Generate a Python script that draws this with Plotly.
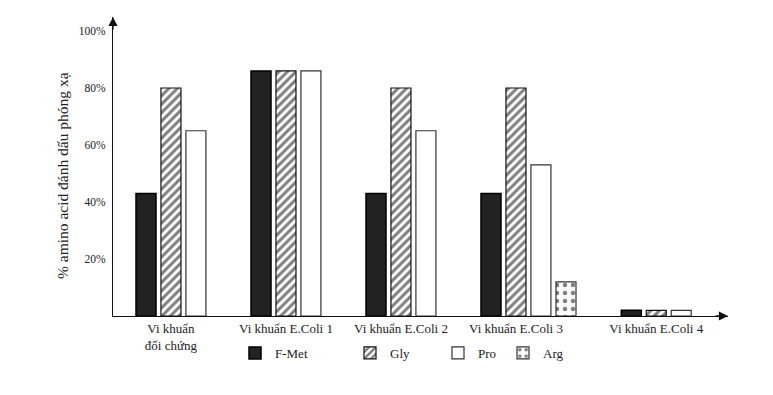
import plotly.graph_objects as go

# ---- data ----
categories = ["Vi khuẩn<br>đối chứng", "Vi khuẩn E.Coli 1", "Vi khuẩn E.Coli 2",
              "Vi khuẩn E.Coli 3", "Vi khuẩn E.Coli 4"]
fmet = [43, 86, 43, 43, 2]
gly = [80, 86, 80, 80, 2]
pro = [65, 86, 65, 53, 2]
arg = [None, None, None, 12, None]
y_ticks = [20, 40, 60, 80, 100]
y_tick_labels = ["20%", "40%", "60%", "80%", "100%"]

# ---- layout helpers (not data) ----
group_pos = [0, 1, 2, 3, 4.22]
bar_w = 0.174
offsets = [-0.304, -0.087, 0.130, 0.348]

BODY = 8  # default body margin of the html page
W, H = 773 - 2 * BODY, 395 - 2 * BODY
L, T = 113 - BODY, 17 - BODY
R = W - (728 - BODY)
B = H - (316 - BODY)
pw, ph = W - L - R, H - T - B

FONT = "Liberation Serif, Times New Roman, serif"
TXT = "#222222"

fig = go.Figure()

series = [
    ("F-Met", fmet, dict(color="#222222", line=dict(color="#000000", width=1.5)), "legend"),
    ("Gly", gly, dict(color="white", line=dict(color="#111111", width=1.2),
                      pattern=dict(shape="/", size=6, solidity=0.5, fgcolor="#000000", bgcolor="white")), "legend2"),
    ("Pro", pro, dict(color="white", line=dict(color="#333333", width=1.2)), "legend3"),
    ("Arg", arg, dict(color="white", line=dict(color="#333333", width=1.2),
                      pattern=dict(shape=".", size=8, solidity=0.25, fgcolor="#000000", bgcolor="white")), "legend4"),
]

for i, (name, vals, marker, lg) in enumerate(series):
    fig.add_trace(go.Bar(
        x=group_pos, y=vals, name=name, marker=marker,
        width=bar_w, offset=offsets[i], legend=lg, hoverinfo="skip",
    ))

def px_x(p):  # page pixel -> paper x
    return (p - BODY - L) / pw

def px_y(p):  # page pixel -> paper y
    return (T + ph - (p - BODY)) / ph

leg_common = dict(orientation="h", yanchor="middle", xanchor="left",
                  bgcolor="rgba(0,0,0,0)", font=dict(family=FONT, size=13, color=TXT),
                  itemwidth=30)
text_starts = [275, 390, 478, 543]
fig.update_layout(
    legend=dict(x=px_x(text_starts[0] - 40), y=px_y(353), **leg_common),
    legend2=dict(x=px_x(text_starts[1] - 40), y=px_y(353), **leg_common),
    legend3=dict(x=px_x(text_starts[2] - 40), y=px_y(353), **leg_common),
    legend4=dict(x=px_x(text_starts[3] - 40), y=px_y(353), **leg_common),
)

fig.update_layout(
    width=W, height=H,
    margin=dict(l=L, r=R, t=T, b=B, pad=0),
    paper_bgcolor="white", plot_bgcolor="white",
    barmode="overlay",
    showlegend=True,
    font=dict(family=FONT, color=TXT),
    xaxis=dict(
        range=[-0.504, -0.504 + pw / 115.0],
        tickvals=group_pos, ticktext=categories,
        showline=True, linecolor="#111111", linewidth=1.3,
        showgrid=False, zeroline=False, ticks="",
        tickfont=dict(family=FONT, size=13, color=TXT),
        fixedrange=True,
    ),
    yaxis=dict(
        range=[0, ph / 2.85],
        tickvals=y_ticks, ticktext=y_tick_labels,
        showline=True, linecolor="#111111", linewidth=1.3,
        showgrid=False, zeroline=False, ticks="",
        ticklabelstandoff=4,
        tickfont=dict(family=FONT, size=11.5, color=TXT),
        fixedrange=True,
    ),
)

# y-axis title
fig.add_annotation(
    text="% amino acid đánh dấu phóng xạ", textangle=-90,
    xref="paper", yref="paper", x=px_x(62), y=px_y(176),
    xanchor="center", yanchor="middle", showarrow=False,
    font=dict(family=FONT, size=15.5, color=TXT),
)

# axis arrows
fig.add_annotation(xref="paper", yref="paper", x=0, y=1, ax=0, ay=14,
                   axref="pixel", ayref="pixel", showarrow=True, arrowhead=2,
                   arrowsize=1.4, arrowwidth=1.3, arrowcolor="#111111", text="")
fig.add_annotation(xref="paper", yref="paper", x=1, y=0, ax=-14, ay=0,
                   axref="pixel", ayref="pixel", showarrow=True, arrowhead=2,
                   arrowsize=1.4, arrowwidth=1.3, arrowcolor="#111111", text="")

fig.write_html("out.html")
